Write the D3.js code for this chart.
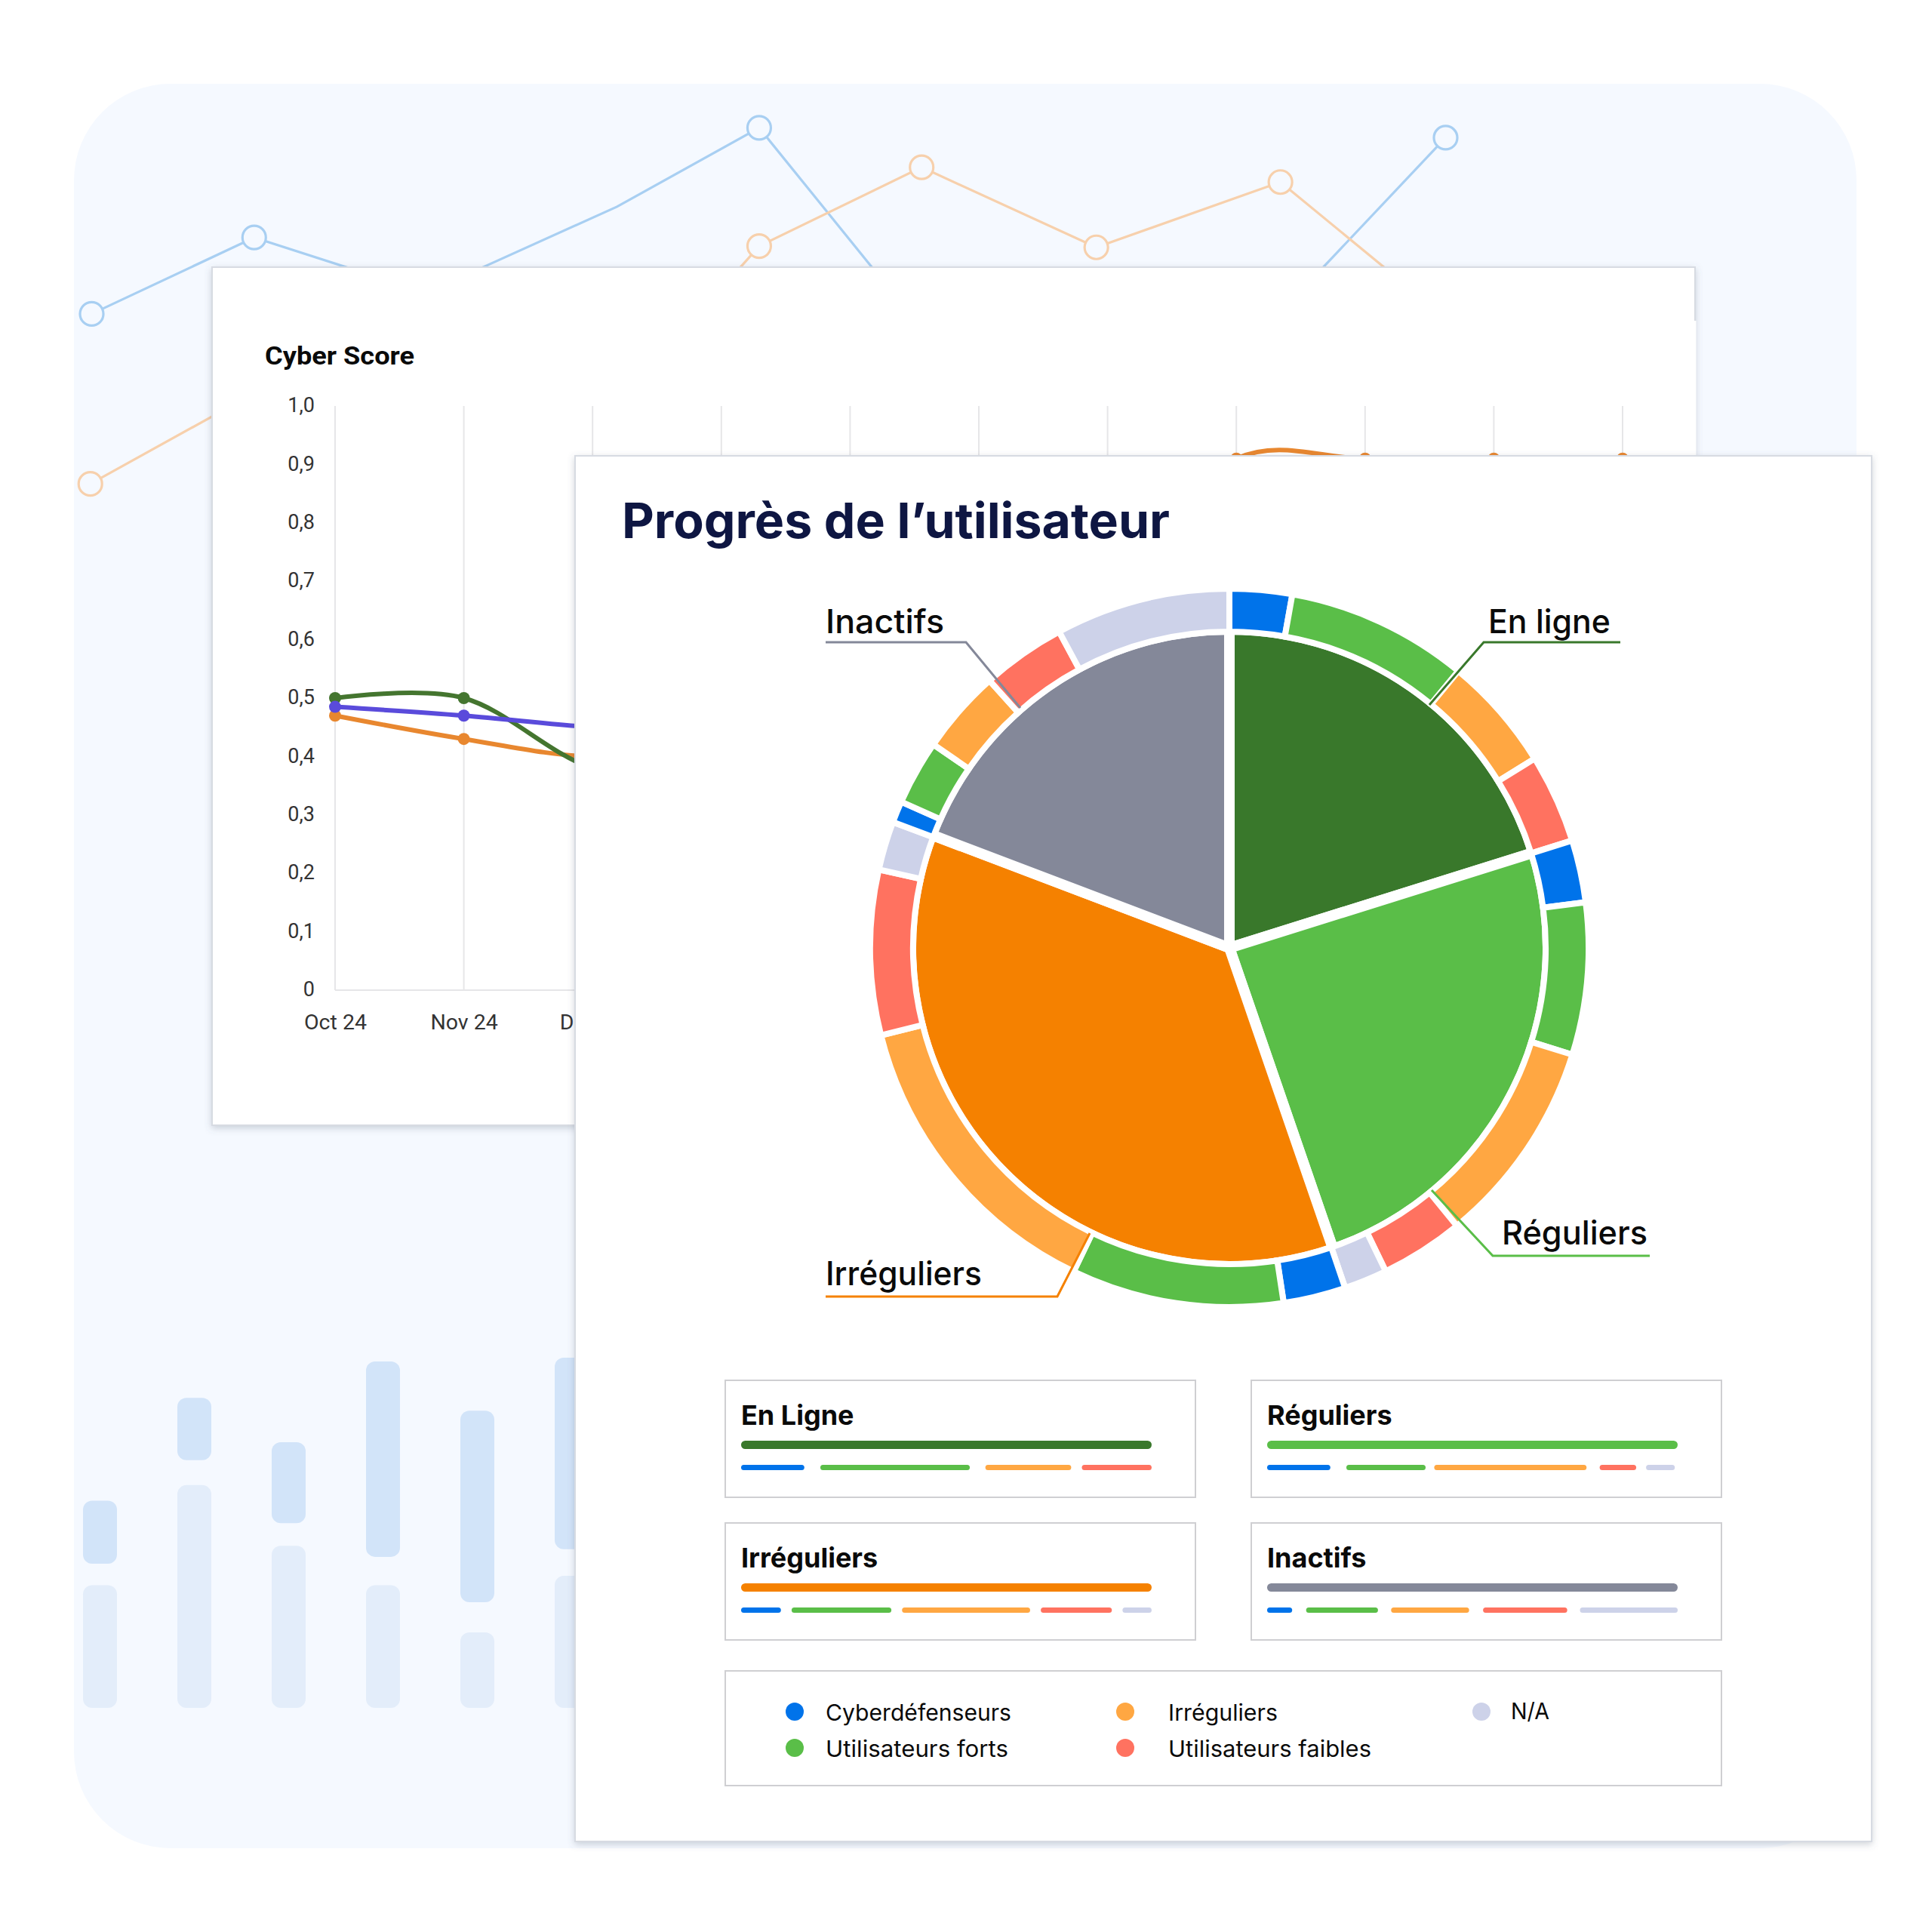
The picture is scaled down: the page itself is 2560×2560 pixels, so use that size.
<!DOCTYPE html>
<html><head><meta charset="utf-8">
<script src="https://cdn.jsdelivr.net/npm/d3@7"></script>
<style>
html,body{margin:0;padding:0;background:#fff}
svg{display:block}
text{font-kerning:normal}
</style></head><body>
<svg id="c" width="2560" height="2560" viewBox="0 0 2560 2560" xmlns="http://www.w3.org/2000/svg"></svg>
<script>
// ---- background decorative series (time 0-100, value 0-100) ----
const bgBlueT = [0,12,24.7,38.8,49.3,73,100];
const bgBlueV = [61.5,77,65.75,83.25,99.25,18.75,97.25];
const bgBlueMarkers = [0,1,2,4,5,6];
const bgOrangeT = [-0.1,20.6,34.2,49.3,61.3,74.2,87.8,111.6];
const bgOrangeV = [27,58.5,28.5,75.25,91.25,75,88.25,34.5];
const bgOrangeMarkers = [0,3,4,5,6];
const bgBarUpperTop = [59.8,89.5,76.7,100,85.8,101.1];
const bgBarUpperBot = [41.6,71.5,53.3,43.6,30.5,45.8];
const bgBarLowerTop = [35.4,64.3,46.8,35.4,21.8,38.1];
// ---- Cyber Score ----
const months = ["Oct 24","Nov 24","Déc 24","Jan 25","Fév 25","Mar 25","Avr 25","Mai 25","Juin 25","Juil 25","Août 25"];
const yTicks = [0,0.1,0.2,0.3,0.4,0.5,0.6,0.7,0.8,0.9,1];
const scoreGreen = [0.5,0.5,0.38,0.36];
const scorePurple = [0.485,0.47,0.45,0.44];
const scoreOrange = [0.47,0.43,0.4,0.42,0.5,0.6,0.71,0.91,0.91,0.91,0.91];
// ---- Progress pie (shares read in degrees around the circle) ----
const groupNames = ["En ligne","Réguliers","Irréguliers","Inactifs"];
const groupValues = [72.6,88.4,129.8,69.2];
const ringEnLigne = [["cyber",10.1],["forts",29.5],["irr",18.6],["faibles",14.4]];
const ringReguliers = [["cyber",10.1],["forts",24.6],["irr",33.4],["faibles",13.5],["na",7.0]];
const ringIrreguliers = [["cyber",10.1],["forts",34.4],["irr",50.2],["faibles",26.7],["na",7.9]];
const ringInactifs = [["cyber",3.5],["forts",10.5],["irr",13.6],["faibles",13.6],["na",28.3]];
// ---- breakdown cards (start,end along the 0-100 bar) ----
const cardTitles = ["En Ligne","Réguliers","Irréguliers","Inactifs"];
const barEnLigne = [["cyber",0,15.4],["forts",19.3,55.7],["irr",59.5,80.4],["faibles",83,100]];
const barReguliers = [["cyber",0,15.4],["forts",19.3,38.6],["irr",40.7,77.8],["faibles",81,89.9],["na",92.3,99.3]];
const barIrreguliers = [["cyber",0,9.7],["forts",12.3,36.6],["irr",39.2,70.4],["faibles",73,90.3],["na",92.9,100]];
const barInactifs = [["cyber",0,6.1],["forts",9.5,27],["irr",30.2,49.2],["faibles",52.6,73.1],["na",76.2,100]];
const legendKeys = ["cyber","forts","irr","faibles","na"];
const legendLabels = ["Cyberdéfenseurs","Utilisateurs forts","Irréguliers","Utilisateurs faibles","N/A"];

const groupColor = d3.scaleOrdinal(groupNames,["#39782b","#5abe48","#f58100","#848899"]);
const segColor = d3.scaleOrdinal(legendKeys,["#0073ea","#5abe48","#ffa742","#ff7260","#cdd2e9"]);
const svg = d3.select("#c");
const sans = "'Inter','Noto Sans',sans-serif";
const fit = (sel,w)=>sel.attr("textLength",w).attr("lengthAdjust","spacingAndGlyphs");

const defs = svg.append("defs");
const f = defs.append("filter").attr("id","sh").attr("x","-3%").attr("y","-3%").attr("width","106%").attr("height","106%");
f.append("feDropShadow").attr("dx",0).attr("dy",3).attr("stdDeviation",5).attr("flood-color","#5a6478").attr("flood-opacity",0.28);

// --- backdrop ---
svg.append("rect").attr("x",98).attr("y",111).attr("width",2362).attr("height",2338).attr("rx",128).attr("fill","#f5f9ff");

const bgX = d3.scaleLinear([0,100],[121.5,1915.5]);
const bgY = d3.scaleLinear([0,100],[817.5,164.5]);
function bgSeries(T,V,M,col){
  const pts = T.map((t,i)=>[bgX(t),bgY(V[i])]);
  svg.append("path").attr("d",d3.line()(pts)).attr("fill","none").attr("stroke",col).attr("stroke-width",3.2);
  svg.append("g").selectAll("circle").data(M).join("circle")
    .attr("cx",i=>pts[i][0]).attr("cy",i=>pts[i][1]).attr("r",15.5)
    .attr("fill","#f5f9ff").attr("stroke",col).attr("stroke-width",3.2);
}
bgSeries(bgBlueT,bgBlueV,bgBlueMarkers,"#a8cff2");
bgSeries(bgOrangeT,bgOrangeV,bgOrangeMarkers,"#f7d0ac");

// faint bars
const barX = d3.scaleBand(d3.range(6),[110,780]).paddingInner(0.64).paddingOuter(0);
const barY = d3.scaleLinear([0,100],[2263,1804]);
const bgBars = svg.append("g");
bgBars.selectAll(".lo").data(bgBarLowerTop).join("rect").attr("class","lo")
  .attr("x",(d,i)=>barX(i)).attr("width",barX.bandwidth()).attr("y",d=>barY(d)).attr("height",d=>barY(0)-barY(d)).attr("rx",12).attr("fill","#e3edfa");
bgBars.selectAll(".up").data(bgBarUpperTop).join("rect").attr("class","up")
  .attr("x",(d,i)=>barX(i)).attr("width",barX.bandwidth()).attr("y",d=>barY(d)).attr("height",(d,i)=>barY(bgBarUpperBot[i])-barY(d)).attr("rx",12).attr("fill","#d2e4f9");

// --- Card 1: Cyber Score ---
svg.append("rect").attr("x",281).attr("y",354).attr("width",1965).attr("height",1137)
  .attr("fill","#fff").attr("stroke","#d7dbe2").attr("stroke-width",2).attr("filter","url(#sh)");
svg.append("line").attr("x1",2246).attr("x2",2246).attr("y1",425).attr("y2",604).attr("stroke","#fff").attr("stroke-width",3);
svg.append("text").text("Cyber Score").attr("x",351).attr("y",483)
  .attr("font-family","Roboto,sans-serif").attr("font-weight",700).attr("font-size",34).attr("fill","#0a0a0a").call(fit,198);

const x = d3.scalePoint(months,[444,2150]);
const y = d3.scaleLinear([0,1],[1312,538]);
const tickStyle = size=>g=>{
  g.select(".domain").remove();
  g.selectAll("line").remove();
  g.selectAll("text").attr("font-family","Roboto,sans-serif").attr("font-size",size).attr("fill","#333");
};
svg.append("g").selectAll("line").data(months).join("line")
  .attr("x1",d=>x(d)).attr("x2",d=>x(d)).attr("y1",y(1)).attr("y2",y(0)).attr("stroke","#e6e6e8").attr("stroke-width",2);
svg.append("line").attr("x1",x(months[0])).attr("x2",x(months[10])).attr("y1",y(0)).attr("y2",y(0)).attr("stroke","#e6e6e8").attr("stroke-width",2);
svg.append("g").attr("transform",`translate(417,-1)`)
  .call(d3.axisLeft(y).tickValues(yTicks).tickSize(0).tickPadding(0).tickFormat(d=>d===0?"0":d3.format(".1f")(d).replace(".",",")))
  .call(tickStyle(27));
svg.append("g").attr("transform",`translate(0,1344)`)
  .call(d3.axisBottom(x).tickSize(0).tickPadding(0))
  .call(tickStyle(28.5));
const lineGen = d3.line().x((d,i)=>x(months[i])).y(d=>y(d)).curve(d3.curveCardinal.tension(0));
[[scoreOrange,"#e8872f"],[scoreGreen,"#44752f"],[scorePurple,"#5a4bdb"]].forEach(([vals,col])=>{
  svg.append("path").attr("d",lineGen(vals)).attr("fill","none").attr("stroke",col).attr("stroke-width",6);
  svg.append("g").selectAll("circle").data(vals).join("circle")
    .attr("cx",(d,i)=>x(months[i])).attr("cy",d=>y(d)).attr("r",8).attr("fill",col);
});

// --- Card 2: Progrès ---
svg.append("rect").attr("x",762).attr("y",604).attr("width",1718).attr("height",1836)
  .attr("fill","#fff").attr("stroke","#d7dbe2").attr("stroke-width",2).attr("filter","url(#sh)");
svg.append("text").text("Progrès de l’utilisateur").attr("x",824).attr("y",713)
  .attr("font-family",sans).attr("font-weight",700).attr("font-size",65).attr("fill","#0e1642").call(fit,726);

const cx=1629, cy=1256;
const pie = d3.pie().sort(null).value(d=>d);
const pg = svg.append("g").attr("transform",`translate(${cx},${cy})`);
pg.selectAll("path").data(pie(groupValues)).join("path")
  .attr("d",d3.arc().innerRadius(0).outerRadius(422))
  .attr("fill",(d,i)=>groupColor(groupNames[i])).attr("stroke","#fff").attr("stroke-width",14);
const ringData = [...ringEnLigne,...ringReguliers,...ringIrreguliers,...ringInactifs];
const ringPie = d3.pie().sort(null).value(d=>d[1]);
pg.selectAll("path.r").data(ringPie(ringData)).join("path").attr("class","r")
  .attr("d",d3.arc().innerRadius(419).outerRadius(476))
  .attr("fill",d=>segColor(d.data[0])).attr("stroke","#fff").attr("stroke-width",8);

// leader lines and labels, placed relative to the pie centre
const leaders = [
  {name:"En ligne", pts:[[265,-322],[337,-405],[518,-405]], tx:343, ty:-417, w:162},
  {name:"Réguliers", pts:[[268,321],[349,408],[557,408]], tx:361, ty:393, w:193},
  {name:"Irréguliers", pts:[[-185,378],[-228,462],[-535,462]], tx:-535, ty:447, w:207},
  {name:"Inactifs", pts:[[-277,-318],[-349,-405],[-535,-405]], tx:-535, ty:-417, w:157}
];
leaders.forEach(l=>{
  pg.append("path").attr("d",d3.line()(l.pts)).attr("fill","none").attr("stroke",groupColor(l.name)).attr("stroke-width",3);
  pg.append("text").text(l.name).attr("x",l.tx).attr("y",l.ty)
    .attr("font-family",sans).attr("font-weight",500).attr("font-size",44).attr("fill","#0a0a0a").call(fit,l.w);
});

// breakdown cards
const cards = [[961,1829,barEnLigne,"En ligne"],[1658,1829,barReguliers,"Réguliers"],[961,2018,barIrreguliers,"Irréguliers"],[1658,2018,barInactifs,"Inactifs"]];
const barScale = d3.scaleLinear([0,100],[21,565]);
cards.forEach((c,i)=>{
  const g = svg.append("g").attr("transform",`translate(${c[0]},${c[1]})`);
  g.append("rect").attr("width",623).attr("height",155).attr("fill","#fff").attr("stroke","#cfcfd2").attr("stroke-width",2);
  g.append("text").text(cardTitles[i]).attr("x",21).attr("y",59)
    .attr("font-family",sans).attr("font-weight",700).attr("font-size",36).attr("fill","#0a0a0a");
  g.append("rect").attr("x",barScale(0)).attr("y",80).attr("width",barScale(100)-barScale(0)).attr("height",11).attr("rx",5.5).attr("fill",groupColor(c[3]));
  g.selectAll("rect.s").data(c[2]).join("rect").attr("class","s")
    .attr("x",d=>barScale(d[1])).attr("width",d=>barScale(d[2])-barScale(d[1]))
    .attr("y",112).attr("height",7).attr("rx",3.5).attr("fill",d=>segColor(d[0]));
});

// legend
svg.append("rect").attr("x",961).attr("y",2214).attr("width",1320).attr("height",152).attr("fill","#fff").attr("stroke","#cfcfd2").attr("stroke-width",2);
const lgPos = [[1053,2268],[1053,2316],[1491,2268],[1491,2316],[1963,2268]];
const lgTextX = [41,41,57,57,39];
const lgTextY = [12,12,12,12,10];
const lgTextW = [246,242,145,269,51];
const lg = svg.append("g").selectAll("g").data(legendKeys).join("g").attr("transform",(d,i)=>`translate(${lgPos[i][0]},${lgPos[i][1]})`);
lg.append("circle").attr("r",12).attr("fill",d=>segColor(d));
lg.append("text").text((d,i)=>legendLabels[i]).attr("x",(d,i)=>lgTextX[i]).attr("y",(d,i)=>lgTextY[i])
  .attr("font-family",sans).attr("font-size",30).attr("font-weight",400).attr("fill","#0a0a0a")
  .attr("textLength",(d,i)=>lgTextW[i]).attr("lengthAdjust","spacingAndGlyphs");
</script>
</body></html>
